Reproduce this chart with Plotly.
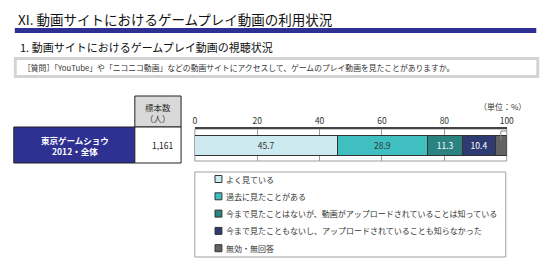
import plotly.graph_objects as go

# ---------------- data ----------------
categories = [
    "よく見ている",
    "過去に見たことがある",
    "今まで見たことはないが、動画がアップロードされていることは知っている",
    "今まで見たこともないし、アップロードされていることも知らなかった",
    "無効・無回答",
]
values = [45.7, 28.9, 11.3, 10.4, 3.6]
group_label = "東京ゲームショウ<br>2012・全体"
sample_n = "1,161"
x_ticks = [0, 20, 40, 60, 80, 100]

title_text = "XI. 動画サイトにおけるゲームプレイ動画の利用状況"
subtitle_text = "1. 動画サイトにおけるゲームプレイ動画の視聴状況"
question_text = "［質問］「YouTube」や「ニコニコ動画」などの動画サイトにアクセスして、ゲームのプレイ動画を見たことがありますか。"
header_text = "標本数<br>（人）"
unit_text = "（単位：%）"

# ---------------- styles ----------------
colors = ["#cdeaf0", "#3fbfbf", "#2a8281", "#2e3a72", "#626262"]
text_colors = ["#333333", "#333333", "#ffffff", "#ffffff", "#ffffff"]
navy = "#2e3192"
FONT = "Noto Sans CJK JP"
W, H = 560, 264


def px(x):
    return x / W


def py(y):
    return 1 - y / H


fig = go.Figure()

for i, (cat, v) in enumerate(zip(categories, values)):
    show_text = f"{v:.1f}" if v >= 5 else ""
    fig.add_trace(go.Bar(
        x=[v], y=[group_label], orientation="h", name=cat,
        marker=dict(color=colors[i], line=dict(color="#333333", width=1)),
        text=[show_text], textposition="inside", insidetextanchor="middle",
        textangle=0,
        textfont=dict(color=text_colors[i], size=8.5, family=FONT),
        showlegend=False, hoverinfo="skip",
    ))

shapes = []
annotations = []

# title bar
shapes.append(dict(type="rect", xref="paper", yref="paper",
                   x0=px(13), x1=px(543), y0=py(33), y1=py(28),
                   fillcolor=navy, line=dict(width=0)))
annotations.append(dict(text=title_text, xref="paper", yref="paper",
                        x=px(14), y=py(19), xanchor="left", yanchor="middle",
                        showarrow=False, font=dict(size=13.5, family=FONT, color="#111111")))
annotations.append(dict(text=subtitle_text, xref="paper", yref="paper",
                        x=px(16), y=py(47), xanchor="left", yanchor="middle",
                        showarrow=False, font=dict(size=11, family=FONT, color="#111111")))

# question box
shapes.append(dict(type="rect", xref="paper", yref="paper",
                   x0=px(12), x1=px(546), y0=py(78), y1=py(57),
                   fillcolor="#d3d3d3", line=dict(width=0), layer="below"))
shapes.append(dict(type="rect", xref="paper", yref="paper",
                   x0=px(15), x1=px(543), y0=py(75), y1=py(60),
                   fillcolor="#ffffff", line=dict(width=0), layer="below"))
annotations.append(dict(text=question_text, xref="paper", yref="paper",
                        x=px(19), y=py(67.5), xanchor="left", yanchor="middle",
                        showarrow=False, font=dict(size=7.8, family=FONT, color="#333333")))

# table
shapes.append(dict(type="rect", xref="paper", yref="paper",
                   x0=px(135), x1=px(182), y0=py(127), y1=py(96),
                   fillcolor="#d9d9d9", line=dict(color="#222222", width=1)))
shapes.append(dict(type="rect", xref="paper", yref="paper",
                   x0=px(12), x1=px(135), y0=py(163), y1=py(127),
                   fillcolor=navy, line=dict(color="#222222", width=1)))
shapes.append(dict(type="rect", xref="paper", yref="paper",
                   x0=px(135), x1=px(182), y0=py(163), y1=py(127),
                   fillcolor="#ffffff", line=dict(color="#222222", width=1)))
annotations.append(dict(text=header_text, xref="paper", yref="paper",
                        x=px(158.5), y=py(113), xanchor="center", yanchor="middle",
                        showarrow=False, font=dict(size=8.5, family=FONT, color="#333333")))
annotations.append(dict(text="<b>" + group_label + "</b>", xref="paper", yref="paper",
                        x=px(74), y=py(145), xanchor="center", yanchor="middle",
                        showarrow=False, font=dict(size=8.5, family=FONT, color="#ffffff")))
annotations.append(dict(text=sample_n, xref="paper", yref="paper",
                        x=px(177), y=py(145), xanchor="right", yanchor="middle",
                        showarrow=False, font=dict(size=8.5, family=FONT, color="#222222")))

# chart frame (gray) and unit label
shapes.append(dict(type="rect", xref="paper", yref="paper",
                   x0=px(196), x1=px(513), y0=py(161), y1=py(129),
                   fillcolor="rgba(0,0,0,0)", line=dict(color="#9a9a9a", width=1),
                   layer="below"))
annotations.append(dict(text=unit_text, xref="paper", yref="paper",
                        x=px(535), y=py(106), xanchor="right", yanchor="middle",
                        showarrow=False, font=dict(size=8, family=FONT, color="#333333")))

# leader line for the small last segment
last_center = sum(values[:-1]) + values[-1] / 2
shapes.append(dict(type="path", xref="x", yref="paper",
                   path=f"M {last_center},{py(140)} L {last_center},{py(131)} L {101.3},{py(131)}",
                   line=dict(color="#8a8a8a", width=1)))
annotations.append(dict(text=f"{values[-1]:.1f}", xref="x", yref="paper",
                        x=101.6, y=py(131.5), xanchor="left", yanchor="middle",
                        showarrow=False, font=dict(size=8.5, family=FONT, color="#333333")))

# legend box
shapes.append(dict(type="rect", xref="paper", yref="paper",
                   x0=px(196), x1=px(512), y0=py(257), y1=py(172),
                   fillcolor="#ffffff", line=dict(color="#a0a0a0", width=1)))
for i, cat in enumerate(categories):
    cy = 179 + i * 17.3
    shapes.append(dict(type="rect", xref="paper", yref="paper",
                       x0=px(216.5), x1=px(223.5), y0=py(cy + 3.5), y1=py(cy - 3.5),
                       fillcolor=colors[i], line=dict(color="#333333", width=1)))
    annotations.append(dict(text=cat, xref="paper", yref="paper",
                            x=px(226), y=py(cy), xanchor="left", yanchor="middle",
                            showarrow=False, font=dict(size=8, family=FONT, color="#333333")))

fig.update_layout(
    width=W, height=H,
    margin=dict(l=0, r=0, t=0, b=0),
    paper_bgcolor="#ffffff", plot_bgcolor="rgba(0,0,0,0)",
    barmode="stack", bargap=0.375,
    shapes=shapes, annotations=annotations,
    showlegend=False,
    xaxis=dict(domain=[px(196), px(513)], range=[0, 100], side="top",
               tickvals=x_ticks, ticktext=[str(t) for t in x_ticks],
               showgrid=True, gridcolor="#9a9a9a", gridwidth=1,
               zeroline=False, showline=True, linecolor="#444444", linewidth=1.5,
               ticks="", ticklabelstandoff=0,
               tickfont=dict(size=8.5, family=FONT, color="#333333"),
               fixedrange=True),
    yaxis=dict(domain=[py(161), py(129)], showticklabels=False, showgrid=False,
               zeroline=False, fixedrange=True),
)

fig.write_html("out.html")
